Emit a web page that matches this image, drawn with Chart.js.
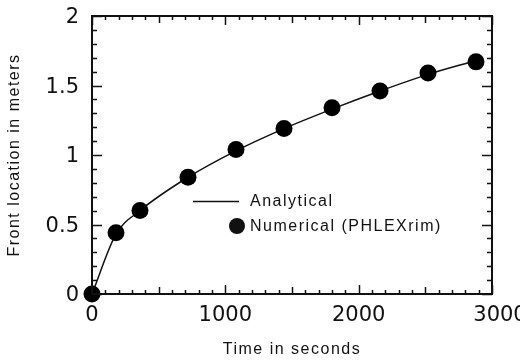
<!DOCTYPE html>
<html>
<head>
<meta charset="utf-8">
<script src="https://cdn.jsdelivr.net/npm/chart.js@4.4.0/dist/chart.umd.min.js"></script>
<style>
  html, body { margin: 0; padding: 0; background: #fff; }
  #wrap { width: 520px; height: 363px; }
</style>
</head>
<body>
<div id="wrap"><canvas id="myChart"></canvas></div>
<script>
// time in seconds and front location in meters
const timeSec = [0, 180, 360, 720, 1080, 1440, 1800, 2160, 2520, 2880]
const numericalY = [0, 0.44, 0.60, 0.84, 1.04, 1.19, 1.34, 1.46, 1.59, 1.67]
const analyticalY = [0, 0.43, 0.60, 0.84, 1.03, 1.19, 1.33, 1.46, 1.58, 1.68]
const xTicks = [0, 1000, 2000, 3000]
const yTicks = [0, 0.5, 1, 1.5, 2]
const xTickLabels = ['0', '1000', '2000', '3000']
const yTickLabels = ['0', '0.5', '1', '1.5', '2']

const ctx = document.getElementById('myChart')

const framePlugin = {
    id: 'frame',
    afterDatasetsDraw(chart) {
        const c = chart.ctx
        const a = chart.chartArea
        const xs = chart.scales.x
        const ys = chart.scales.y
        c.save()
        c.strokeStyle = '#111'
        c.lineWidth = 2
        c.strokeRect(a.left, a.top, a.right - a.left, a.bottom - a.top)

        // ticks on all four sides, pointing inside
        c.lineWidth = 1.5
        c.beginPath()
        for (let v = 0; v <= 3000; v += 100) {
            const px = Math.round(xs.getPixelForValue(v)) + 0.5
            let len = 4
            if (v % 1000 === 0) len = 9
            else if (v % 500 === 0) len = 7
            c.moveTo(px, a.bottom); c.lineTo(px, a.bottom - len)
            c.moveTo(px, a.top); c.lineTo(px, a.top + len)
        }
        for (let i = 0; i <= 20; i++) {
            const v = i / 10
            const py = Math.round(ys.getPixelForValue(v)) + 0.5
            const len = (i % 5 === 0) ? 10 : 5
            c.moveTo(a.left, py); c.lineTo(a.left + len, py)
            c.moveTo(a.right, py); c.lineTo(a.right - len, py)
        }
        c.stroke()

        // tick labels
        c.fillStyle = '#111'
        c.font = '21px "DejaVu Sans"'
        c.textAlign = 'center'
        c.textBaseline = 'middle'
        xTicks.forEach((v, i) => {
            c.fillText(xTickLabels[i], xs.getPixelForValue(v) + (i === 3 ? 8 : 0), a.bottom + 22)
        })
        c.textAlign = 'right'
        yTicks.forEach((v, i) => {
            c.fillText(yTickLabels[i], a.left - 13, ys.getPixelForValue(v) + 2)
        })

        // axis titles
        c.font = '16px "Liberation Sans"'
        c.letterSpacing = '1.5px'
        c.textAlign = 'center'
        c.fillText('Time in seconds', (a.left + a.right) / 2, 350)
        c.save()
        c.translate(15, (a.top + a.bottom) / 2)
        c.rotate(-Math.PI / 2)
        c.fillText('Front location in meters', 0, 0)
        c.restore()

        // legend
        c.textAlign = 'left'
        c.lineWidth = 1.5
        c.beginPath()
        c.moveTo(193, 201.5); c.lineTo(239, 201.5)
        c.stroke()
        c.fillText('Analytical', 250, 202)
        c.beginPath()
        c.arc(237, 226, 8, 0, Math.PI * 2)
        c.fill()
        c.fillText('Numerical (PHLEXrim)', 250, 227)
        c.restore()
    }
}

const myChart = new Chart(ctx, {
    type: 'scatter',
    data: {
        datasets: [{
            label: 'Numerical (PHLEXrim)',
            data: timeSec.map((t, i) => ({ x: t, y: numericalY[i] })),
            showLine: false,
            pointRadius: 8.5,
            pointBackgroundColor: '#000',
            pointBorderWidth: 0,
            clip: false,
        }, {
            label: 'Analytical',
            data: timeSec.map((t, i) => ({ x: t, y: analyticalY[i] })),
            showLine: true,
            borderColor: '#111',
            borderWidth: 1.5,
            pointRadius: 0,
            cubicInterpolationMode: 'monotone',
        }],
    },
    options: {
        responsive: true,
        maintainAspectRatio: false,
        animation: false,
        layout: { padding: { left: 92, right: 28, top: 16, bottom: 69 } },
        plugins: { legend: { display: false }, tooltip: { enabled: false } },
        scales: {
            x: { type: 'linear', display: false, min: 0, max: 3000 },
            y: { type: 'linear', display: false, min: 0, max: 2 },
        },
    },
    plugins: [framePlugin],
})
</script>
</body>
</html>
